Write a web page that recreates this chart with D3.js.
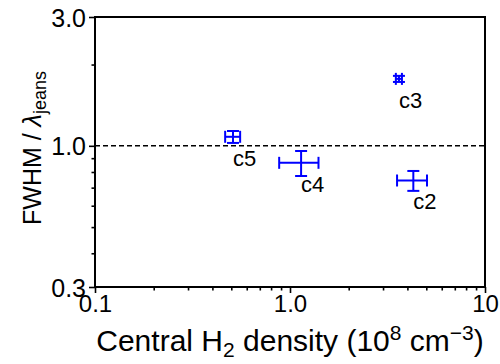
<!DOCTYPE html>
<html>
<head>
<meta charset="utf-8">
<script src="https://cdn.jsdelivr.net/npm/d3@7"></script>
<style>
  body { margin: 0; background: #fff; }
  svg text { font-family: "Liberation Sans", Arial, sans-serif; }
</style>
</head>
<body>
<svg id="chart" width="500" height="364"></svg>
<script>
// clump values
var names = ["c2", "c3", "c4", "c5"]
var density = [4.29, 3.62, 1.14, 0.51]      // 10^8 cm^-3
var densityErr = [0.75, 0.13, 0.26, 0.045]
var ratio = [0.744, 1.77, 0.865, 1.08]      // FWHM / lambda_jeans
var ratioErr = [0.063, 0.046, 0.092, 0.055]

var xTicks = [0.1, 1, 10]
var xTickLabels = ["0.1", "1.0", "10"]
var yTicks = [0.3, 1, 3]
var yTickLabels = ["0.3", "1.0", "3.0"]

var margin = {left: 95, right: 15, top: 17, bottom: 77}
var W = 500, H = 364
var svg = d3.select("#chart")

var x = d3.scaleLog().domain([0.1, 10]).range([margin.left, W - margin.right])
var y = d3.scaleLog().domain([0.3, 3]).range([H - margin.bottom, margin.top])

// minor ticks (outward, short)
var xMinor = x.ticks().filter(function(v){ return xTicks.indexOf(v) < 0 })
var yMinor = [0.4, 0.5, 0.6, 0.7, 0.8, 0.9, 2]

var xAxis = d3.axisBottom(x).tickValues(xTicks)
  .tickFormat(function(d, i){ return xTickLabels[i] }).tickSize(6).tickPadding(2)
var yAxis = d3.axisLeft(y).tickValues(yTicks)
  .tickFormat(function(d, i){ return yTickLabels[i] }).tickSize(6).tickPadding(3)

var gx = svg.append("g").attr("transform", "translate(0," + (H - margin.bottom) + ")").call(xAxis)
var gy = svg.append("g").attr("transform", "translate(" + margin.left + ",0)").call(yAxis)

svg.append("g").attr("transform", "translate(0," + (H - margin.bottom) + ")")
  .call(d3.axisBottom(x).tickValues(xMinor).tickFormat("").tickSize(3.5))
svg.append("g").attr("transform", "translate(" + margin.left + ",0)")
  .call(d3.axisLeft(y).tickValues(yMinor).tickFormat("").tickSize(3.5))

svg.selectAll(".domain").remove()
svg.selectAll(".tick line").attr("stroke", "#000").attr("stroke-width", 1.6)
gx.selectAll("text").attr("font-size", 24).attr("fill", "#000")
gy.selectAll("text").attr("font-size", 25).attr("fill", "#000").attr("dy", "0.36em")

// frame
svg.append("rect")
  .attr("x", margin.left).attr("y", margin.top)
  .attr("width", W - margin.left - margin.right)
  .attr("height", H - margin.top - margin.bottom)
  .attr("fill", "none").attr("stroke", "#000").attr("stroke-width", 2)

// y = 1 reference
svg.append("line")
  .attr("x1", x(0.1)).attr("x2", x(10))
  .attr("y1", y(1)).attr("y2", y(1))
  .attr("stroke", "#000").attr("stroke-width", 1.5)
  .attr("stroke-dasharray", "5,3")

// error bars
var cap = 6
var pts = svg.append("g").selectAll("g").data(names).enter().append("g")
  .attr("stroke", "#0000ff").attr("stroke-width", 2).attr("fill", "none")

pts.each(function(d, i){
  var g = d3.select(this)
  var x0 = x(density[i] - densityErr[i]), x1 = x(density[i] + densityErr[i])
  var y0 = y(ratio[i] - ratioErr[i]), y1 = y(ratio[i] + ratioErr[i])
  var cx = x(density[i]), cy = y(ratio[i])
  g.append("line").attr("x1", x0).attr("x2", x1).attr("y1", cy).attr("y2", cy)
  g.append("line").attr("x1", cx).attr("x2", cx).attr("y1", y0).attr("y2", y1)
  g.append("line").attr("x1", x0).attr("x2", x0).attr("y1", cy - cap).attr("y2", cy + cap)
  g.append("line").attr("x1", x1).attr("x2", x1).attr("y1", cy - cap).attr("y2", cy + cap)
  g.append("line").attr("x1", cx - cap).attr("x2", cx + cap).attr("y1", y0).attr("y2", y0)
  g.append("line").attr("x1", cx - cap).attr("x2", cx + cap).attr("y1", y1).attr("y2", y1)
})

// clump names
svg.append("g").selectAll("text").data(names).enter().append("text")
  .attr("x", function(d, i){ return x(density[i]) })
  .attr("y", function(d, i){ return y(ratio[i]) + 29 })
  .attr("font-size", 22).attr("fill", "#000")
  .text(function(d){ return d })

// axis titles
var xl = svg.append("text")
  .attr("x", (x(0.1) + x(10)) / 2).attr("y", 351)
  .attr("text-anchor", "middle").attr("font-size", 30).attr("fill", "#000")
xl.append("tspan").text("Central H")
xl.append("tspan").attr("font-size", 21).attr("dy", 6).text("2")
xl.append("tspan").attr("dy", -6).text(" density (10")
xl.append("tspan").attr("font-size", 21).attr("dy", -11).text("8")
xl.append("tspan").attr("dy", 11).text(" cm")
xl.append("tspan").attr("font-size", 21).attr("dy", -11).text("\u22123")
xl.append("tspan").attr("dy", 11).text(")")

var yl = svg.append("text")
  .attr("transform", "translate(41,148) rotate(-90)")
  .attr("text-anchor", "middle").attr("font-size", 25).attr("fill", "#000")
yl.append("tspan").text("FWHM / ")
yl.append("tspan").attr("font-style", "italic").text("\u03bb")
yl.append("tspan").attr("font-size", 18).attr("dy", 5).text("jeans")
</script>
</body>
</html>
